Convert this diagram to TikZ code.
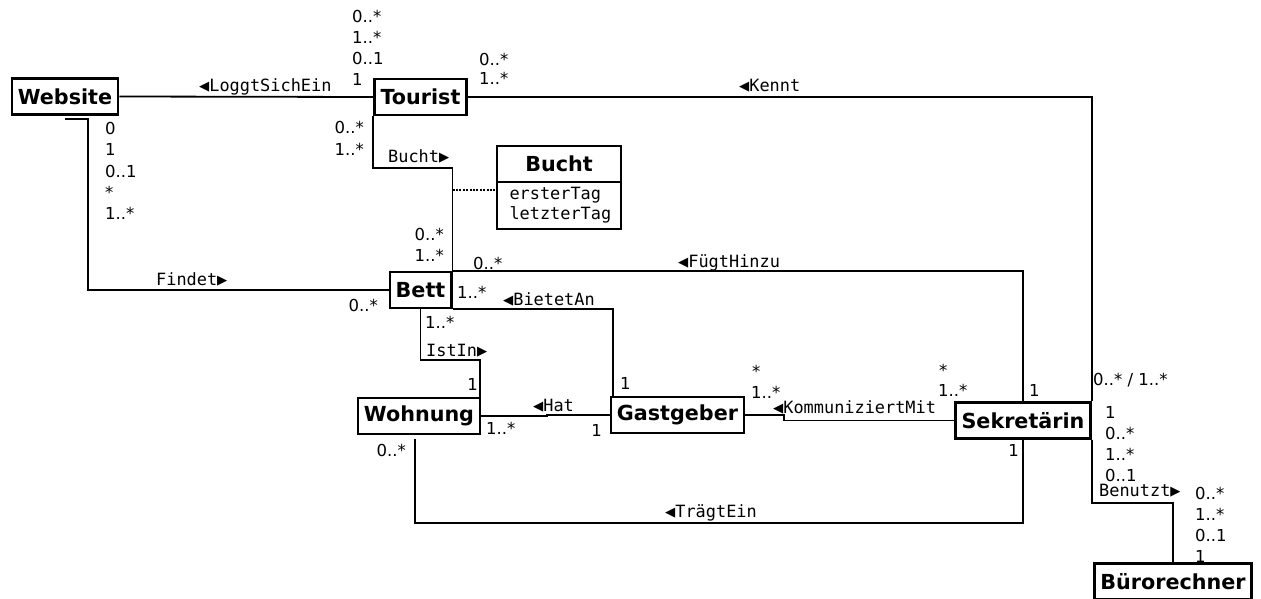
\documentclass[tikz,border=0pt]{standalone}
\usepackage{fontspec}
\setmainfont{DejaVu Sans}
\newfontfamily\labelfont{DejaVu Sans Mono}
\usetikzlibrary{positioning}

\tikzset{
  klasse/.style={draw,line width=2.4pt,fill=white,font=\bfseries\fontsize{20.7}{24}\selectfont,
    minimum height=36pt,inner xsep=6pt,inner ysep=0pt},
  mult/.style={font=\fontsize{16.5}{19}\selectfont,inner sep=0pt,anchor=base west},
  multr/.style={mult,anchor=base east},
  rolle/.style={font=\labelfont\fontsize{16.9}{20}\selectfont,inner sep=0pt,anchor=base west},
  verb/.style={line width=1.8pt}
}

\begin{document}
\begin{tikzpicture}[x=1pt,y=-1pt]
  \useasboundingbox (0,0) rectangle (1261,599);
  % classes
  \node[klasse] (website) at (65,96.5) {Website};
  \node[klasse] (tourist) at (420.5,97) {Tourist};
  \node[klasse] (bett) at (420.5,290) {Bett};
  \node[klasse] (wohnung) at (419,416) {Wohnung};
  \node[klasse] (gastgeber) at (677.5,415) {Gastgeber};
  \node[klasse] (sekretaerin) at (1023,420.5) {Sekretärin};
  \node[klasse] (buero) at (1173,581.5) {Bürorechner};
  \node[klasse,minimum width=124pt] (bucht) at (559,164) {Bucht};
  \node[draw,line width=2.4pt,below=-2.4pt of bucht,minimum height=47pt,text width=99pt,inner xsep=12.5pt,
    align=left,font=\labelfont\fontsize{16.9}{20}\selectfont] (buchtattr) {ersterTag\\letzterTag};

  % associations
  \draw[verb] (website.east) -- (tourist.west);
  \draw[verb] (tourist.east) -| (sekretaerin.north east);
  \draw[verb] ([yshift=-3pt]website.south) -- ++(23,0) |- (bett.west);
  \draw[verb] (tourist.south west) -- ++(0,52) -| (bett.north east);
  \coordinate (bm) at (bett.north east |- 0,190);
  \draw[line width=2.4pt,dash pattern=on 2pt off 1.4pt] (bm) -- (buchtattr.west |- bm);
  \draw[verb] (bett.north east) -| (sekretaerin.north);
  \draw[verb] (bett.south east) -| ([xshift=3pt]gastgeber.north west);
  \draw[verb] (bett.south) -- ++(0,51) -| ([xshift=-1pt]wohnung.north east);
  \draw[verb] (wohnung.east) -- ++(66,0) |- (gastgeber.west);
  \draw[verb] (gastgeber.east) -- ++(39,0) |- (sekretaerin.west);
  \draw[verb] (sekretaerin.south) -- ++(0,83) -| ([xshift=-4pt,yshift=-4pt]wohnung.south);
  \draw[verb] (sekretaerin.south east) -- ++(0,63) -| (buero.north);

  % association names
  \node[rolle] (nLoggt) at (199,92) {◀LoggtSichEin};
  \node[rolle] (nKennt) at (739,92) {◀Kennt};
  \node[rolle] (nBucht) at (388,162) {Bucht▶};
  \node[rolle] (nFindet) at (156,285) {Findet▶};
  \node[rolle] (nFuegt) at (678,267) {◀FügtHinzu};
  \node[rolle] (nBietet) at (503,305) {◀BietetAn};
  \node[rolle] (nIstIn) at (426,356) {IstIn▶};
  \node[rolle] (nHat) at (533,411) {◀Hat};
  \node[rolle] (nKomm) at (773,413) {◀KommuniziertMit};
  \node[rolle] (nTraegt) at (665,517) {◀TrägtEin};
  \node[rolle] (nBenutzt) at (1099,496) {Benutzt▶};

  % multiplicities
  \foreach \m [count=\i] in {0..*,1..*,0..1,1}
    \node[mult] (mTa\i) at (352,{23+21*(\i-1)}) {\m};
  \foreach \m [count=\i] in {0..*,1..*}
    \node[mult] (mTb\i) at (479,{66+19*(\i-1)}) {\m};
  \foreach \m [count=\i] in {0,1,0..1,*,1..*}
    \node[mult] (mW\i) at (105,{135+21*(\i-1)}) {\m};
  \foreach \m [count=\i] in {0..*,1..*}
    \node[multr] (mTc\i) at (364,{134+22*(\i-1)}) {\m};
  \foreach \m [count=\i] in {0..*,1..*}
    \node[multr] (mBa\i) at (444,{240+21*(\i-1)}) {\m};
  \node[mult] (mBb) at (473,269) {0..*};
  \node[mult] (mBc) at (457,298) {1..*};
  \node[multr] (mBd) at (378,311) {0..*};
  \node[mult] (mBe) at (425,328) {1..*};
  \node[multr] (mWa) at (478,390) {1};
  \node[mult] (mGa) at (620,389) {1};
  \node[mult] (mWb) at (486,434) {1..*};
  \node[multr] (mGb) at (602,436) {1};
  \node[multr] (mWc) at (406,456) {0..*};
  \node[mult] (mGc) at (752,377) {*};
  \node[mult] (mGd) at (751,398) {1..*};
  \node[mult] (mSa) at (939,376) {*};
  \node[mult] (mSb) at (938,396) {1..*};
  \node[mult] (mSc) at (1029,396) {1};
  \node[multr] (mSd) at (1019,456) {1};
  \node[mult] (mSe) at (1093,385) {0..* / 1..*};
  \foreach \m [count=\i] in {1,0..*,1..*,0..1}
    \node[mult] (mSf\i) at (1105,{418+21*(\i-1)}) {\m};
  \foreach \m [count=\i] in {0..*,1..*,0..1,1}
    \node[mult] (mR\i) at (1195,{499+21.3*(\i-1)}) {\m};
\end{tikzpicture}
\end{document}
